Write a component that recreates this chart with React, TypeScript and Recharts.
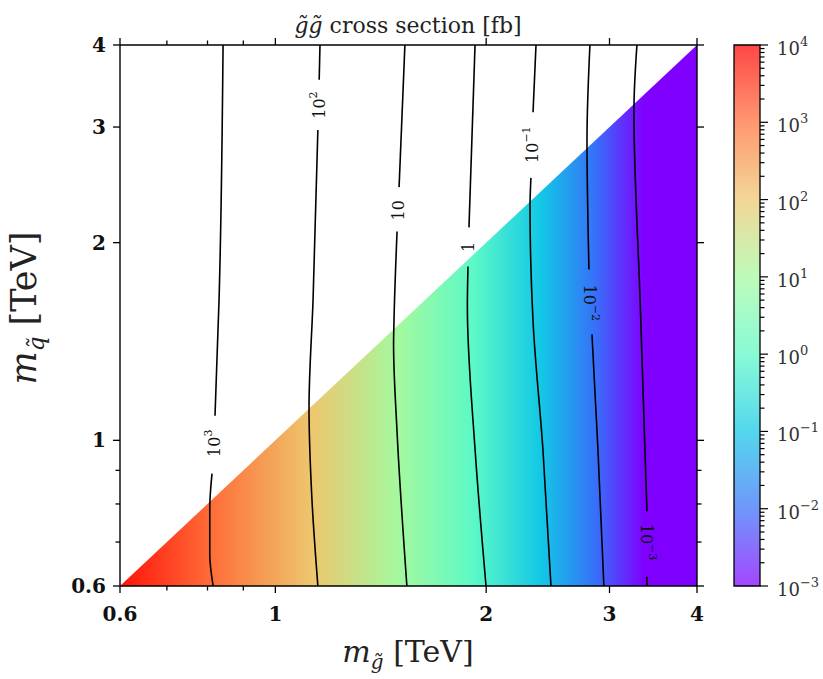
import React from 'react';
import { ComposedChart, Area, Line, XAxis, YAxis, ReferenceArea, ReferenceDot } from 'recharts';

// gluino / squark masses in TeV
const massTicks = [0.6, 0.7, 0.8, 0.9, 1, 2, 3, 4];
const massMajor = [0.6, 1, 2, 3, 4];

// cross section (fb) along the gluino mass, drives the colour fill
const fillMass = [0.6, 0.815, 1.13, 1.5, 1.92, 2.4, 2.87, 3.36, 4.0];
const fillXsec = [6800, 1000, 100, 10, 1, 0.1, 0.01, 0.001, 0.0001];

// m_squark < m_gluino region
const kinematicEdge = [
  { mg: 0.6, mq: 0.6 },
  { mg: 4.0, mq: 4.0 },
];

// iso cross-section contours, split where the inline label sits
const c1e3Top = [{ mg: 0.842, mq: 4.0 }, { mg: 0.831, mq: 1.64 }, { mg: 0.82, mq: 1.09 }];
const c1e3Bottom = [{ mg: 0.812, mq: 0.89 }, { mg: 0.806, mq: 0.79 }, { mg: 0.806, mq: 0.67 }, { mg: 0.815, mq: 0.6 }];
const c1e2Top = [{ mg: 1.158, mq: 4.0 }, { mg: 1.155, mq: 3.54 }];
const c1e2Bottom = [{ mg: 1.15, mq: 2.97 }, { mg: 1.132, mq: 1.64 }, { mg: 1.117, mq: 1.12 }, { mg: 1.128, mq: 0.81 }, { mg: 1.15, mq: 0.6 }];
const c1e1Top = [{ mg: 1.531, mq: 4.0 }, { mg: 1.502, mq: 2.43 }];
const c1e1Bottom = [{ mg: 1.492, mq: 2.08 }, { mg: 1.477, mq: 1.52 }, { mg: 1.475, mq: 1.4 }, { mg: 1.492, mq: 1.03 }, { mg: 1.541, mq: 0.6 }];
const c1e0Top = [{ mg: 1.928, mq: 4.0 }, { mg: 1.89, mq: 2.11 }];
const c1e0Bottom = [{ mg: 1.884, mq: 1.84 }, { mg: 1.88, mq: 1.6 }, { mg: 1.928, mq: 0.97 }, { mg: 1.999, mq: 0.6 }];
const cm1Top = [{ mg: 2.356, mq: 4.0 }, { mg: 2.333, mq: 3.16 }];
const cm1Bottom = [{ mg: 2.317, mq: 2.51 }, { mg: 2.31, mq: 2.27 }, { mg: 2.333, mq: 1.52 }, { mg: 2.41, mq: 0.97 }, { mg: 2.475, mq: 0.6 }];
const cm2Top = [{ mg: 2.813, mq: 4.0 }, { mg: 2.786, mq: 2.87 }, { mg: 2.804, mq: 1.82 }];
const cm2Bottom = [{ mg: 2.832, mq: 1.45 }, { mg: 2.888, mq: 0.97 }, { mg: 2.945, mq: 0.6 }];
const cm3Top = [{ mg: 3.283, mq: 4.0 }, { mg: 3.251, mq: 3.18 }, { mg: 3.32, mq: 1.6 }, { mg: 3.393, mq: 0.78 }];
const cm3Bottom = [{ mg: 3.393, mq: 0.62 }, { mg: 3.393, mq: 0.6 }];

const contourSegments = [c1e3Top, c1e3Bottom, c1e2Top, c1e2Bottom, c1e1Top, c1e1Bottom, c1e0Top, c1e0Bottom, cm1Top, cm1Bottom, cm2Top, cm2Bottom, cm3Top, cm3Bottom];

const contourLabels = [
  { mg: 0.816, mq: 0.99, base: '10', exp: '3' },
  { mg: 1.153, mq: 3.24, base: '10', exp: '2' },
  { mg: 1.497, mq: 2.24, base: '10', exp: '' },
  { mg: 1.887, mq: 1.97, base: '1', exp: '' },
  { mg: 2.325, mq: 2.82, base: '10', exp: '\u22121' },
  { mg: 2.815, mq: 1.62, base: '10', exp: '\u22122' },
  { mg: 3.393, mq: 0.7, base: '10', exp: '\u22123' },
];
const labelAngles = [-90, -90, -90, -90, -90, 90, 90];

// colour bar decades (log10 fb), top to bottom
const cbarDecades = [4, 3, 2, 1, 0, -1, -2, -3];

const SERIF = '"DejaVu Serif", "Liberation Serif", serif';
const LOG_MIN = -3;
const LOG_MAX = 4;

// matplotlib "rainbow"
function rainbow(t: number) {
  const c = (v: number) => Math.round(255 * Math.max(0, Math.min(1, v)));
  const r = Math.abs(2 * t - 0.5);
  const g = Math.sin(Math.PI * t);
  const b = Math.cos((Math.PI * t) / 2);
  return `rgb(${c(r)},${c(g)},${c(b)})`;
}

function xsecColor(sigma: number) {
  const t = (Math.log10(sigma) - LOG_MIN) / (LOG_MAX - LOG_MIN);
  return rainbow(Math.max(0, Math.min(1, t)));
}

const majorSet = new Set(massMajor);

function BottomTick(props: any) {
  const { x, y, payload } = props;
  const major = majorSet.has(payload.value);
  return (
    <g>
      <line x1={x} x2={x} y1={y} y2={y + (major ? 7 : 4.5)} stroke="#000" strokeWidth={1.3} />
      {major && (
        <text x={x} y={y + 35} textAnchor="middle" fontFamily={SERIF} fontWeight="bold" fontSize={20} fill="#111">
          {String(payload.value)}
        </text>
      )}
    </g>
  );
}

function TopTick(props: any) {
  const { x, y, payload } = props;
  const major = majorSet.has(payload.value);
  return <line x1={x} x2={x} y1={y} y2={y - (major ? 7 : 4.5)} stroke="#000" strokeWidth={1.3} />;
}

function LeftTick(props: any) {
  const { x, y, payload } = props;
  const major = majorSet.has(payload.value);
  return (
    <g>
      <line x1={x} x2={x - (major ? 7 : 4.5)} y1={y} y2={y} stroke="#000" strokeWidth={1.3} />
      {major && (
        <text x={x - 14} y={y + 7} textAnchor="end" fontFamily={SERIF} fontWeight="bold" fontSize={20} fill="#111">
          {String(payload.value)}
        </text>
      )}
    </g>
  );
}

function RightTick(props: any) {
  const { x, y, payload } = props;
  const major = majorSet.has(payload.value);
  return <line x1={x} x2={x + (major ? 7 : 4.5)} y1={y} y2={y} stroke="#000" strokeWidth={1.3} />;
}

function ContourLabel(props: any) {
  const { cx, cy, index } = props;
  const item = contourLabels[index];
  const angle = labelAngles[index];
  return (
    <text
      x={cx}
      y={cy}
      transform={`rotate(${angle}, ${cx}, ${cy})`}
      textAnchor="middle"
      dominantBaseline="central"
      fontFamily={SERIF}
      fontSize={16}
      fill="#111"
    >
      <tspan>{item.base}</tspan>
      {item.exp && (
        <tspan dy={-6} fontSize={11}>
          {item.exp}
        </tspan>
      )}
    </text>
  );
}

const cbarTicks: number[] = [];
for (let k = LOG_MIN; k <= LOG_MAX; k++) {
  cbarTicks.push(Math.pow(10, k));
  if (k < LOG_MAX) for (let m = 2; m <= 9; m++) cbarTicks.push(m * Math.pow(10, k));
}

function CbarTick(props: any) {
  const { x, y, payload } = props;
  const lg = Math.log10(payload.value);
  const major = Math.abs(lg - Math.round(lg)) < 1e-6;
  const exp = Math.round(lg);
  return (
    <g>
      <line x1={x} x2={x + (major ? 8 : 4.5)} y1={y} y2={y} stroke="#000" strokeWidth={1.2} />
      {major && (
        <text x={x + 17} y={y + 10} fontFamily={SERIF} fontSize={18} fill="#333">
          <tspan>10</tspan>
          <tspan dy={-9} fontSize={13}>
            {exp < 0 ? `\u2212${-exp}` : String(exp)}
          </tspan>
        </text>
      )}
    </g>
  );
}

function XsecMap() {
  const span = Math.log(4 / 0.6);
  return (
    <ComposedChart width={720} height={679} margin={{ top: 35, right: 13, bottom: 53, left: 60 }}>
      <defs>
        <linearGradient id="xsecFill" x1="0" y1="0" x2="1" y2="0">
          {fillMass.map((m, i) => (
            <stop key={m} offset={Math.log(m / 0.6) / span} stopColor={xsecColor(fillXsec[i])} />
          ))}
        </linearGradient>
      </defs>
      <Area
        data={kinematicEdge}
        dataKey="mq"
        type="linear"
        baseValue={0.6}
        fill="url(#xsecFill)"
        fillOpacity={1}
        stroke="none"
        isAnimationActive={false}
        activeDot={false}
      />
      {contourSegments.map((seg, i) => (
        <Line
          key={i}
          data={seg}
          dataKey="mq"
          type="monotoneY"
          stroke="#000"
          strokeWidth={1.6}
          dot={false}
          activeDot={false}
          isAnimationActive={false}
        />
      ))}
      {contourLabels.map((l, i) => (
        <ReferenceDot key={i} x={l.mg} y={l.mq} r={0} shape={(p: any) => <ContourLabel {...p} index={i} />} />
      ))}
      <XAxis
        dataKey="mg"
        type="number"
        scale="log"
        domain={[0.6, 4]}
        allowDataOverflow
        ticks={massTicks}
        interval={0}
        tickSize={0}
        tickMargin={0}
        tickLine={false}
        tick={<BottomTick />}
        height={40}
        axisLine={{ stroke: '#000', strokeWidth: 1.4 }}
      />
      <XAxis
        xAxisId="top"
        orientation="top"
        dataKey="mg"
        type="number"
        scale="log"
        domain={[0.6, 4]}
        allowDataOverflow
        ticks={massTicks}
        interval={0}
        tickSize={0}
        tickMargin={0}
        tickLine={false}
        tick={<TopTick />}
        height={10}
        axisLine={{ stroke: '#000', strokeWidth: 1.4 }}
      />
      <YAxis
        dataKey="mq"
        type="number"
        scale="log"
        domain={[0.6, 4]}
        allowDataOverflow
        ticks={massTicks}
        interval={0}
        tickSize={0}
        tickMargin={0}
        tickLine={false}
        tick={<LeftTick />}
        width={60}
        axisLine={{ stroke: '#000', strokeWidth: 1.4 }}
      />
      <YAxis
        yAxisId="right"
        orientation="right"
        dataKey="mq"
        type="number"
        scale="log"
        domain={[0.6, 4]}
        allowDataOverflow
        ticks={massTicks}
        interval={0}
        tickSize={0}
        tickMargin={0}
        tickLine={false}
        tick={<RightTick />}
        width={10}
        axisLine={{ stroke: '#000', strokeWidth: 1.4 }}
      />
    </ComposedChart>
  );
}

function ColorBar() {
  return (
    <ComposedChart width={123} height={679} margin={{ top: 45, right: 3, bottom: 93, left: 34 }}>
      <defs>
        <linearGradient id="cbarFill" x1="0" y1="0" x2="0" y2="1">
          {cbarDecades.map((k) => (
            <stop key={k} offset={(LOG_MAX - k) / (LOG_MAX - LOG_MIN)} stopColor={xsecColor(Math.pow(10, k))} />
          ))}
        </linearGradient>
      </defs>
      <XAxis type="number" dataKey="pos" domain={[0, 1]} hide />
      <YAxis
        orientation="right"
        type="number"
        scale="log"
        domain={[0.001, 10000]}
        allowDataOverflow
        ticks={cbarTicks}
        interval={0}
        tickSize={0}
        tickMargin={0}
        tickLine={false}
        axisLine={false}
        tick={<CbarTick />}
        width={60}
      />
      <ReferenceArea
        x1={0}
        x2={1}
        y1={0.001}
        y2={10000}
        fill="url(#cbarFill)"
        fillOpacity={0.72}
        stroke="#000"
        strokeOpacity={1}
        strokeWidth={1.3}
        ifOverflow="extendDomain"
      />
    </ComposedChart>
  );
}

export default function App() {
  return (
    <div style={{ position: 'absolute', left: 0, top: 0, width: 823, height: 679, overflow: 'hidden', background: '#fff' }}>
      <div style={{ position: 'absolute', left: 0, top: 0 }}>
        <XsecMap />
      </div>
      <div style={{ position: 'absolute', left: 700, top: 0 }}>
        <ColorBar />
      </div>
      <svg width={823} height={679} style={{ position: 'absolute', left: 0, top: 0, pointerEvents: 'none' }}>
        <text x={408} y={33} textAnchor="middle" fontFamily={SERIF} fontSize={22} fill="#222">
          <tspan fontStyle="italic">{'g\u0303g\u0303'}</tspan>
          <tspan> cross section [fb]</tspan>
        </text>
        <text x={408} y={662} textAnchor="middle" fontFamily={SERIF} fontSize={30} fill="#222">
          <tspan fontStyle="italic">m</tspan>
          <tspan fontStyle="italic" fontSize={20} dy={7}>{'g\u0303'}</tspan>
          <tspan dy={-7}> [TeV]</tspan>
        </text>
        <text x={36} y={308} transform="rotate(-90, 36, 308)" textAnchor="middle" fontFamily={SERIF} fontSize={35} fill="#222">
          <tspan fontStyle="italic">m</tspan>
          <tspan fontStyle="italic" fontSize={23} dy={8}>{'q\u0303'}</tspan>
          <tspan dy={-8}> [TeV]</tspan>
        </text>
      </svg>
    </div>
  );
}
